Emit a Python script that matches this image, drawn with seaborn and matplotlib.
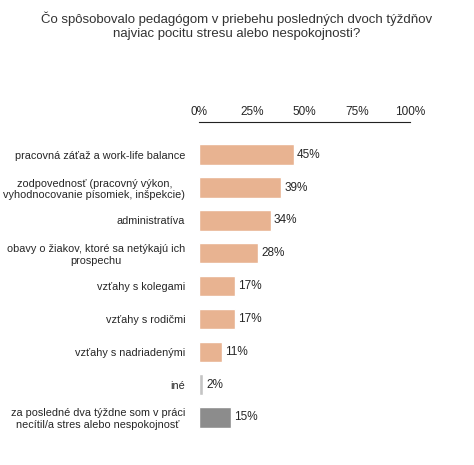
import matplotlib
matplotlib.use("Agg")
import matplotlib.pyplot as plt
import seaborn as sns
import pandas as pd

categories = ["pracovná záťaž a work-life balance",
              "zodpovednosť (pracovný výkon,\nvyhodnocovanie písomiek, inšpekcie)",
              "administratíva",
              "obavy o žiakov, ktoré sa netýkajú ich\nprospechu",
              "vzťahy s kolegami",
              "vzťahy s rodičmi",
              "vzťahy s nadriadenými",
              "iné",
              "za posledné dva týždne som v práci\nnecítil/a stres alebo nespokojnosť"]
values = [45, 39, 34, 28, 17, 17, 11, 2, 15]
colors = ["#E8B391"] * 7 + ["#C4C4C4", "#8C8C8C"]

sns.set_theme(style="white")
plt.rcParams['font.family'] = ['Liberation Sans', 'DejaVu Sans']
fig = plt.figure(figsize=(4.74, 4.65), dpi=100)
ax = fig.add_axes([0.42, 0.06, 0.445, 0.678])
df = pd.DataFrame({"cat": categories, "val": values})
sns.barplot(data=df, y="cat", x="val", hue="cat", palette=colors, legend=False,
            ax=ax, width=0.62, saturation=1)
ax.set_xlim(0, 100)
ax.set_ylim(8.6, -1.0)
ax.xaxis.tick_top()
ax.set_xticks([0, 25, 50, 75, 100])
ax.set_xticklabels([f"{t}%" for t in [0, 25, 50, 75, 100]], fontsize=8.5)
ax.tick_params(axis="x", length=0, pad=3)
ax.tick_params(axis="y", length=0, pad=10, labelsize=7.8)
ax.set_xlabel(""); ax.set_ylabel("")
for s in ["right", "bottom", "left"]:
    ax.spines[s].set_visible(False)
ax.spines["top"].set_color("#222222"); ax.spines["top"].set_linewidth(0.8)
for lbl in ax.get_yticklabels():
    lbl.set_horizontalalignment("right")
    lbl.set_multialignment("center")
for i, v in enumerate(values):
    ax.text(v + 1.5, i, f"{v}%", va="center", ha="left", fontsize=8.5)
fig.text(0.5, 0.975, "Čo spôsobovalo pedagógom v priebehu posledných dvoch týždňov\nnajviac pocitu stresu alebo nespokojnosti?",
         ha="center", va="top", fontsize=9.5, color="#333333", linespacing=1.2)
fig.savefig("out.png", dpi=100)
